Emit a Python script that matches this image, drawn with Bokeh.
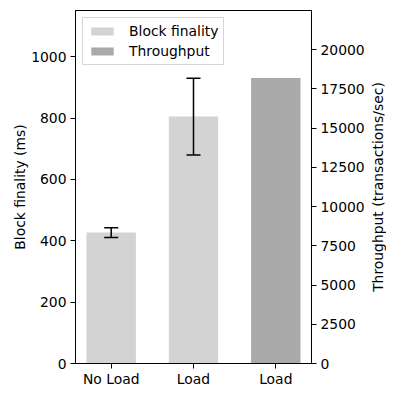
from bokeh.plotting import figure
from bokeh.layouts import row
from bokeh.models import (Range1d, LinearAxis, FixedTicker, ColumnDataSource,
                          Whisker, TeeHead, Legend, LegendItem, Title)
from bokeh.embed import file_html
from bokeh.resources import INLINE

# ---- data ----
tick_labels = ["No Load", "Load", "Load"]
finality_pos = [0, 1]
finality_ms = [427, 805]
finality_err = [16, 125]
throughput_pos = [2]
throughput_tps = [18200]
left_ticks = [0, 200, 400, 600, 800, 1000]
right_ticks = [0, 2500, 5000, 7500, 10000, 12500, 15000, 17500, 20000]

FONT = "DejaVu Sans"
FS = "13.9px"

p = figure(output_backend="svg", toolbar_location=None,
           frame_width=236, frame_height=353,
           min_border_left=75, min_border_right=55,
           min_border_top=10, min_border_bottom=26,
           x_range=Range1d(-0.434, 2.434), y_range=Range1d(0, 1151))
p.extra_y_ranges = {"tp": Range1d(0, 22500)}
p.grid.visible = False
p.outline_line_color = "black"
p.outline_line_width = 1
p.background_fill_color = "white"
p.border_fill_color = "white"

fin_src = ColumnDataSource(dict(x=finality_pos, top=finality_ms,
                                upper=[v + e for v, e in zip(finality_ms, finality_err)],
                                lower=[v - e for v, e in zip(finality_ms, finality_err)]))
tp_src = ColumnDataSource(dict(x=throughput_pos, top=throughput_tps))

r1 = p.vbar(x="x", top="top", width=0.6, source=fin_src,
            fill_color="#d3d3d3", line_color=None)
r2 = p.vbar(x="x", top="top", width=0.6, source=tp_src, y_range_name="tp",
            fill_color="#a9a9a9", line_color=None)

w = Whisker(base="x", upper="upper", lower="lower", source=fin_src,
            level="overlay",
            line_color="black", line_width=1.5,
            upper_head=TeeHead(size=14, line_color="black", line_width=1.5),
            lower_head=TeeHead(size=14, line_color="black", line_width=1.5))
p.add_layout(w)

def style_axis(ax):
    ax.major_label_text_font = FONT
    ax.major_label_text_font_size = FS
    ax.major_label_text_color = "black"
    ax.axis_label_text_font = FONT
    ax.axis_label_text_font_size = FS
    ax.axis_label_text_font_style = "normal"
    ax.axis_label_text_color = "black"
    ax.major_tick_out = 5
    ax.major_tick_in = 0
    ax.minor_tick_out = 0
    ax.minor_tick_in = 0
    ax.axis_line_color = "black"
    ax.major_tick_line_color = "black"
    ax.major_label_standoff = 4
    ax.axis_label_standoff = 6

xa = p.xaxis[0]
xa.ticker = FixedTicker(ticks=[0, 1, 2])
xa.major_label_overrides = {i: t for i, t in enumerate(tick_labels)}
style_axis(xa)
xa.major_label_standoff = 2

ya = p.yaxis[0]
ya.ticker = FixedTicker(ticks=left_ticks)
ya.axis_label = "Block finality (ms)"
style_axis(ya)
ya.axis_label_standoff = 0

ra = LinearAxis(y_range_name="tp")
ra.ticker = FixedTicker(ticks=right_ticks)
style_axis(ra)
p.add_layout(ra, "right")

legend = Legend(items=[LegendItem(label="Block finality", renderers=[r1]),
                       LegendItem(label="Throughput", renderers=[r2])],
                location="top_left")
legend.margin = 7
legend.padding = 5
legend.spacing = 4
legend.glyph_width = 28
legend.glyph_height = 10
legend.label_height = 16
legend.label_standoff = 13
legend.label_text_font = FONT
legend.label_text_font_size = FS
legend.label_text_color = "black"
legend.border_line_color = "#cccccc"
legend.border_line_alpha = 0.8
legend.background_fill_alpha = 0.8
p.add_layout(legend)

# narrow companion strip carrying the right-hand axis title (reads bottom-to-top)
p2 = figure(output_backend="svg", toolbar_location=None,
            frame_width=1, frame_height=353,
            min_border_left=18, min_border_right=0,
            min_border_top=10, min_border_bottom=26,
            x_range=Range1d(0, 1), y_range=Range1d(0, 1))
p2.xaxis.visible = False
p2.yaxis.visible = False
p2.grid.visible = False
p2.outline_line_color = None
p2.background_fill_color = "white"
p2.border_fill_color = "white"
p2.add_layout(Title(text="Throughput (transactions/sec)", align="center",
                    text_font=FONT, text_font_size=FS, text_font_style="normal",
                    text_color="black", standoff=0, offset=0), "left")

open("out.html", "w").write(file_html(row(p, p2), INLINE))
